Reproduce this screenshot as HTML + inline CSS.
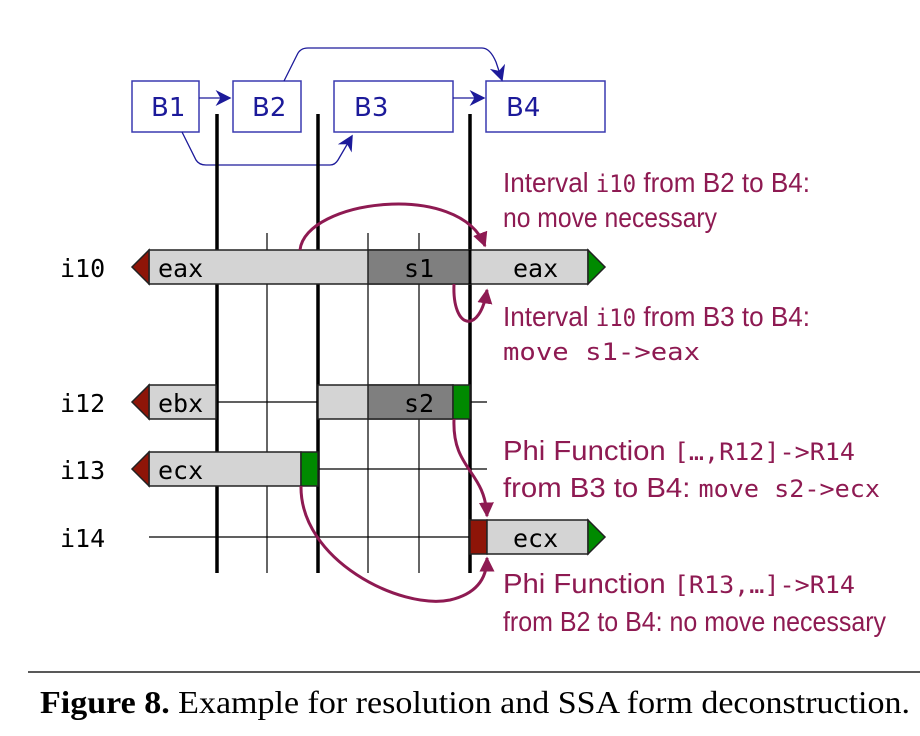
<!DOCTYPE html>
<html><head><meta charset="utf-8"><style>
body{margin:0;background:#fff}
svg{display:block}
.m{font-family:"DejaVu Sans Mono","Liberation Mono",monospace}
.a{font-family:"Liberation Sans",sans-serif;fill:#8e1a52;font-size:28px}
.am{font-family:"DejaVu Sans Mono","Liberation Mono",monospace;fill:#8e1a52;font-size:24px}
</style></head><body>
<svg width="920" height="736" viewBox="0 0 920 736">
<defs>
<marker id="ba" viewBox="0 0 10 10" refX="9" refY="5" markerWidth="16" markerHeight="16" orient="auto" markerUnits="userSpaceOnUse"><path d="M0,0 L10,5 L0,10 L3,5 z" fill="#1c1a9a"/></marker>
<marker id="ra" viewBox="0 0 10 10" refX="9" refY="5" markerWidth="15" markerHeight="15" orient="auto" markerUnits="userSpaceOnUse"><path d="M0,0 L10,5 L0,10 z" fill="#8e1a52"/></marker>
</defs>
<g stroke="#3a3ab0" stroke-width="1.5" fill="#fff">
<rect x="132" y="81" width="67" height="51"/>
<rect x="233" y="81" width="68" height="51"/>
<rect x="334" y="81" width="119" height="51"/>
<rect x="486" y="81" width="119" height="51"/>
</g>
<g font-family="DejaVu Sans,sans-serif" font-size="26" fill="#1c1a9a">
<text x="151" y="116">B1</text>
<text x="252" y="116">B2</text>
<text x="354" y="116">B3</text>
<text x="506" y="116">B4</text>
</g>
<g fill="none" stroke="#1c1a9a" stroke-width="1.3">
<path d="M199,98 L230,98" marker-end="url(#ba)"/>
<path d="M453,98 L484,98" marker-end="url(#ba)"/>
<path d="M284,81 L297,55 Q300,48 308,48 L482,48 Q490,48 496,62 L502,80" marker-end="url(#ba)"/>
<path d="M182,132 L196,160 Q199,165 206,165 L330,165 Q335,165 338,160 L352,136" marker-end="url(#ba)"/>
</g>
<g stroke="#000" stroke-width="1.2">
<line x1="267" y1="233" x2="267" y2="573"/><line x1="368" y1="233" x2="368" y2="573"/><line x1="419" y1="233" x2="419" y2="573"/>
<line x1="216" y1="402" x2="487" y2="402"/><line x1="318" y1="469" x2="487" y2="469"/><line x1="149" y1="537" x2="470" y2="537"/>
</g>
<g stroke="#000" stroke-width="3.5">
<line x1="217" y1="114" x2="217" y2="573"/><line x1="318" y1="114" x2="318" y2="573"/><line x1="470" y1="114" x2="470" y2="573"/>
</g>
<g stroke="#222" stroke-width="1.5">
<rect x="149" y="250" width="439" height="34" fill="#d4d4d4"/>
<rect x="368" y="250" width="102" height="34" fill="#7f7f7f"/>
<rect x="149" y="385" width="67" height="34" fill="#d4d4d4"/>
<rect x="318" y="385" width="135" height="34" fill="#d4d4d4"/>
<rect x="368" y="385" width="85" height="34" fill="#7f7f7f"/>
<rect x="453" y="385" width="17" height="34" fill="#008a00"/>
<rect x="149" y="452" width="152" height="34" fill="#d4d4d4"/>
<rect x="301" y="452" width="17" height="34" fill="#008a00"/>
<rect x="470" y="520" width="17" height="34" fill="#8e1508"/>
<rect x="487" y="520" width="101" height="34" fill="#d4d4d4"/>
<path d="M149,250 L132,267 L149,284 z" fill="#8e1508"/>
<path d="M588,250 L605,267 L588,284 z" fill="#008a00"/>
<path d="M149,385 L132,402 L149,419 z" fill="#8e1508"/>
<path d="M149,452 L132,469 L149,486 z" fill="#8e1508"/>
<path d="M588,520 L605,537 L588,554 z" fill="#008a00"/>
</g>
<line x1="470" y1="250" x2="470" y2="284" stroke="#000" stroke-width="3"/>
<g class="m" font-size="25" fill="#000">
<text x="158" y="277">eax</text>
<text x="404" y="277">s1</text>
<text x="513" y="277">eax</text>
<text x="158" y="412">ebx</text>
<text x="404" y="412">s2</text>
<text x="158" y="479">ecx</text>
<text x="513" y="547">ecx</text>
<text x="60" y="277">i10</text>
<text x="60" y="412">i12</text>
<text x="60" y="479">i13</text>
<text x="60" y="547">i14</text>
</g>
<g fill="none" stroke="#8e1a52" stroke-width="3">
<path d="M300,250 C305,200 460,180 485,246" marker-end="url(#ra)"/>
<path d="M454,284 C452,330 480,335 487,290" marker-end="url(#ra)"/>
<path d="M454,419 C452,470 485,470 487,516" marker-end="url(#ra)"/>
<path d="M301,486 C300,560 400,610 450,600 C480,593 487,575 487,558" marker-end="url(#ra)"/>
</g>
<g>
<text class="a" x="503" y="192" textLength="307" lengthAdjust="spacingAndGlyphs">Interval <tspan class="am">i10</tspan> from B2 to B4:</text>
<text class="a" x="503" y="227" textLength="214" lengthAdjust="spacingAndGlyphs">no move necessary</text>
<text class="a" x="503" y="326" textLength="307" lengthAdjust="spacingAndGlyphs">Interval <tspan class="am">i10</tspan> from B3 to B4:</text>
<text class="am" x="503" y="360" textLength="197" lengthAdjust="spacingAndGlyphs">move s1-&gt;eax</text>
<text class="a" x="503" y="460" textLength="352" lengthAdjust="spacingAndGlyphs">Phi Function  <tspan class="am">[…,R12]-&gt;R14</tspan></text>
<text class="a" x="503" y="497" textLength="377" lengthAdjust="spacingAndGlyphs">from B3 to B4: <tspan class="am">move s2-&gt;ecx</tspan></text>
<text class="a" x="503" y="593" textLength="352" lengthAdjust="spacingAndGlyphs">Phi Function  <tspan class="am">[R13,…]-&gt;R14</tspan></text>
<text class="a" x="503" y="631" textLength="383" lengthAdjust="spacingAndGlyphs">from B2 to B4: no move necessary</text>
</g>
<line x1="28" y1="672" x2="920" y2="672" stroke="#222" stroke-width="1.5"/>
<text x="40" y="713" font-family="Liberation Serif,serif" font-size="32" fill="#000" textLength="870" lengthAdjust="spacingAndGlyphs"><tspan font-weight="bold">Figure 8.</tspan>  Example for resolution and SSA form deconstruction.</text>
</svg>
</body></html>
